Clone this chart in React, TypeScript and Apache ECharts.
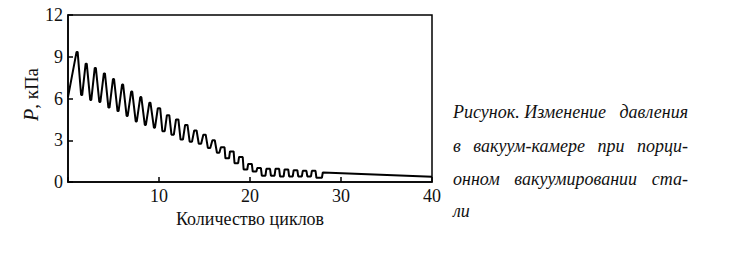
import React, { useEffect, useRef } from "react";
import * as echarts from "echarts";

// Pressure curve: one pumping cycle per unit on the x axis.
const cycleX = [1, 2, 3, 4, 5, 6, 7, 8, 9, 10, 11, 12, 13, 14, 15, 16, 17, 18, 19, 20, 21, 22, 23, 24, 25, 26, 27];
const peakP = [9.35, 8.5, 8.2, 7.8, 7.4, 7.0, 6.5, 6.1, 5.7, 5.3, 4.8, 4.5, 4.1, 3.7, 3.4, 3.0, 2.5, 2.2, 1.8, 1.3, 1.0, 0.95, 0.95, 0.9, 0.85, 0.8, 0.8];
const troughP = [6.25, 5.9, 5.75, 5.35, 5.1, 4.75, 4.35, 4.1, 3.9, 3.65, 3.4, 3.05, 2.9, 2.75, 2.45, 2.1, 1.7, 1.35, 0.9, 0.75, 0.45, 0.45, 0.4, 0.4, 0.4, 0.4, 0.3];
const startX = [0];
const startP = [6.1];
const tailX = [27.9, 28.0, 40];
const tailP = [0.3, 0.68, 0.38];

const xTicks = [0, 10, 20, 30, 40];
const yTicks = [0, 3, 6, 9, 12];

const xName = "Количество циклов";
const captionLines = [
  ["Рисунок. Изменение", "давления"],
  ["в", "вакуум-камере", "при", "порци-"],
  ["онном", "вакуумировании", "ста-"],
  ["ли"],
];

const SERIF = "Liberation Serif";
const CAPTION_SIZE = 18;

function buildCurve(): number[][] {
  const pts: number[][] = [];
  startX.forEach((x, i) => pts.push([x, startP[i]]));
  cycleX.forEach((k, i) => {
    const w = k < 10 ? 0.06 : k < 17 ? 0.13 : 0.2;
    pts.push([k - w, peakP[i]]);
    pts.push([k + w, peakP[i]]);
    pts.push([k + 0.5 - w, troughP[i]]);
    pts.push([k + 0.5 + w, troughP[i]]);
  });
  tailX.forEach((x, i) => pts.push([x, tailP[i]]));
  return pts;
}

export default function App() {
  const ref = useRef<HTMLDivElement>(null);
  useEffect(() => {
    document.body.style.margin = "0";
    if (!ref.current) return;
    const chart = echarts.init(ref.current, undefined, { renderer: "svg" });

    const ctx = document.createElement("canvas").getContext("2d");
    const fontStr = `italic ${CAPTION_SIZE}px "${SERIF}"`;
    const measure = (t: string) => {
      if (!ctx) return t.length * CAPTION_SIZE * 0.45;
      ctx.font = fontStr;
      return ctx.measureText(t).width;
    };

    // justified caption block
    const left = 453;
    const right = 688;
    const lineY = [112, 146, 179, 211];
    const graphics: any[] = [];
    captionLines.forEach((words, li) => {
      const n = words.length;
      const widths = words.map(measure);
      const total = widths.reduce((a, b) => a + b, 0);
      const justify = li < captionLines.length - 1 && n > 1;
      const gap = justify ? (right - left - total) / (n - 1) : measure(" ");
      let x = left;
      words.forEach((w, wi) => {
        graphics.push({
          type: "text",
          x,
          y: lineY[li],
          style: {
            text: w,
            fontFamily: SERIF,
            fontStyle: "italic",
            fontSize: CAPTION_SIZE,
            fill: "#111",
            align: "left",
            verticalAlign: "middle",
          },
        });
        x += widths[wi] + gap;
      });
    });

    chart.setOption({
      animation: false,
      backgroundColor: "#fff",
      grid: {
        left: 68,
        right: 300,
        top: 15,
        bottom: 73,
        show: true,
        borderColor: "#000",
        borderWidth: 1.5,
      },
      xAxis: {
        type: "value",
        min: xTicks[0],
        max: xTicks[xTicks.length - 1],
        interval: 10,
        splitLine: { show: false },
        axisLine: { lineStyle: { color: "#000", width: 1.5 } },
        axisTick: { inside: true, length: 5, lineStyle: { color: "#000", width: 1.5 } },
        axisLabel: {
          color: "#111",
          fontSize: 18,
          fontFamily: SERIF,
          margin: 5,
          formatter: (v: number) => (v === 0 ? "" : String(v)),
        },
        name: xName,
        nameLocation: "middle",
        nameGap: 25,
        nameTextStyle: { color: "#111", fontSize: 18, fontFamily: SERIF },
      },
      yAxis: {
        type: "value",
        min: yTicks[0],
        max: yTicks[yTicks.length - 1],
        interval: 3,
        splitLine: { show: false },
        axisLine: { lineStyle: { color: "#000", width: 1.5 } },
        axisTick: { inside: true, length: 5, lineStyle: { color: "#000", width: 1.5 } },
        axisLabel: { color: "#111", fontSize: 18, fontFamily: SERIF, margin: 5 },
        name: "{i|P}, кПа",
        nameLocation: "middle",
        nameRotate: 90,
        nameGap: 26,
        nameTextStyle: {
          color: "#111",
          fontSize: 19,
          fontFamily: SERIF,
          padding: [0, 0, 0, 8],
          rich: { i: { fontStyle: "italic", fontSize: 20, fontFamily: SERIF, color: "#111" } },
        },
      },
      series: [
        {
          type: "line",
          data: buildCurve(),
          showSymbol: false,
          lineStyle: { color: "#000", width: 2 },
          clip: true,
        },
      ],
      graphic: graphics,
    });
    return () => chart.dispose();
  }, []);
  return <div ref={ref} style={{ position: "fixed", left: 0, top: 0, width: 732, height: 255 }} />;
}
